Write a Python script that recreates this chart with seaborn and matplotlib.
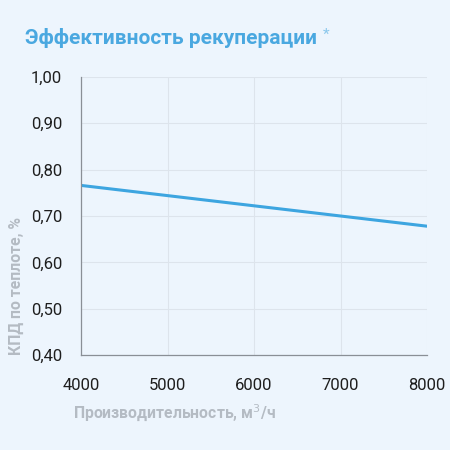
import seaborn as sns
import matplotlib.pyplot as plt
import pandas as pd

# Data
airflow = [4000, 5000, 6000, 7000, 8000]
efficiency = [0.766, 0.744, 0.722, 0.700, 0.678]
y_ticks = [0.40, 0.50, 0.60, 0.70, 0.80, 0.90, 1.00]
x_ticks = [4000, 5000, 6000, 7000, 8000]

df = pd.DataFrame({"airflow": airflow, "efficiency": efficiency})

bg = "#EDF5FD"
sns.set_style("white")
plt.rcParams['font.family'] = ['Roboto', 'DejaVu Sans']

fig = plt.figure(figsize=(4.5, 4.5), dpi=100, facecolor=bg)
ax = fig.add_axes([0.18, 0.211, 0.769, 0.618], facecolor=bg)

sns.lineplot(data=df, x="airflow", y="efficiency", ax=ax, color="#3DA5E0", linewidth=2.2)

ax.set_xlim(4000, 8000)
ax.set_ylim(0.40, 1.00)
ax.set_xticks(x_ticks)
ax.set_yticks(y_ticks)
ax.set_yticklabels([f"{v:.2f}".replace(".", ",") for v in y_ticks])
ax.grid(True, color="#DDE4EC", linewidth=0.8)
ax.set_axisbelow(True)

for s in ["top", "right"]:
    ax.spines[s].set_visible(False)
for s in ["left", "bottom"]:
    ax.spines[s].set_color("#8A8F96")
    ax.spines[s].set_linewidth(0.9)

ax.tick_params(axis="both", labelsize=12, colors="#8A8F96", labelcolor="#1E1E1E", length=4, width=0.8)
ax.tick_params(axis="x", pad=12.5)
ax.tick_params(axis="y", pad=9.5)

ax.set_xlabel("Производительность, м$^3$/ч", fontsize=11.3, color="#B4BBC3", fontweight="bold")
ax.set_ylabel("КПД по теплоте, %", fontsize=11.3, color="#B4BBC3", fontweight="bold")
ax.xaxis.set_label_coords(-0.023, -0.17)
ax.xaxis.label.set_horizontalalignment("left")
ax.yaxis.set_label_coords(-0.165, 0.0)
ax.yaxis.label.set_horizontalalignment("left")

fig.text(0.055, 0.915, "Эффективность рекуперации", fontsize=15, color="#4AA8E0", fontweight="bold", va="center")
fig.text(0.717, 0.922, "*", fontsize=11, color="#8CC8EC", va="center")

fig.savefig("out.png", dpi=100, facecolor=bg)
